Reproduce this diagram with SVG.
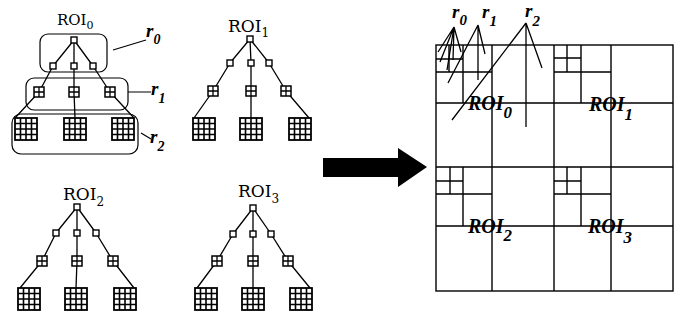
<svg xmlns="http://www.w3.org/2000/svg" width="687" height="320" viewBox="0 0 687 320">
<style>
.e{stroke:#000;stroke-width:1.3;fill:none}
.b{stroke:#000;stroke-width:1.2;fill:none}
.g{stroke:#000;stroke-width:1.4;fill:none}
.lbl{font-family:"DejaVu Serif","Liberation Serif",serif;fill:#000}
.rl{font-family:"Liberation Serif",serif;font-style:italic;font-weight:bold;fill:#000}
.ri{font-family:"Liberation Serif",serif;font-style:italic;font-weight:bold;fill:#000}
</style>
<defs>
<g id="n1"><rect x="-3" y="-3" width="6" height="6" fill="#fff" stroke="#000" stroke-width="1.4"/></g>
<g id="n2"><rect x="-5" y="-5" width="10" height="10" fill="#fff" stroke="#000" stroke-width="1.5"/><path d="M0,-5V5M-5,0H5" stroke="#000" stroke-width="1.3"/></g>
<g id="n3"><rect x="-11" y="-11" width="22" height="22" fill="#fff" stroke="#000" stroke-width="1.8"/><path d="M-5.5,-11V11M0,-11V11M5.5,-11V11M-11,-5.5H11M-11,0H11M-11,5.5H11" stroke="#000" stroke-width="1.6"/></g>
</defs>
<rect width="687" height="320" fill="#fff"/>

<g id="connectors">
<path class="e" d="M74,40L53,66M74,40L74,66M74,40L93,66M53,66L39,92M74,66L74,92M93,66L110,92M39,92L15,118M74,92L75,118M110,92L134,118"/>
<path class="e" d="M250,39L230,63M250,39L251,63M250,39L269,63M230,63L213,91M251,63L251,91M269,63L286,91M213,91L194,118M251,91L251,118M286,91L309,118"/>
<path class="e" d="M77,207L56,233M77,207L77,233M77,207L96,233M56,233L42,261M77,233L77,261M96,233L113,261M42,261L20,288M77,261L76,288M113,261L134,288"/>
<path class="e" d="M253,208L233,234M253,208L253,234M253,208L271,234M233,234L217,261M253,234L253,261M271,234L288,261M217,261L197,288M253,261L253,288M288,261L310,288"/>
</g>

<g id="tree0">
<text class="lbl" x="57" y="25" font-size="15">ROI<tspan font-size="11" dy="4">0</tspan></text>
<g id="t0-root"><use href="#n1" x="74" y="40"/></g>
<g id="t0-a"><use href="#n1" x="53" y="66"/></g>
<g id="t0-b"><use href="#n1" x="74" y="66"/></g>
<g id="t0-c"><use href="#n1" x="93" y="66"/></g>
<g id="t0-d"><use href="#n2" x="39" y="92"/></g>
<g id="t0-e"><use href="#n2" x="74" y="92"/></g>
<g id="t0-f"><use href="#n2" x="110" y="92"/></g>
<g id="t0-g"><use href="#n3" x="26" y="129"/></g>
<g id="t0-h"><use href="#n3" x="75" y="129"/></g>
<g id="t0-i"><use href="#n3" x="123" y="129"/></g>
</g>

<g id="regions0">
<rect class="b" x="40" y="34" width="67" height="38" rx="8"/>
<rect class="b" x="26" y="78" width="102" height="32" rx="8"/>
<rect class="b" x="12" y="114" width="126" height="40" rx="9"/>
<path class="b" d="M113,50L146,40M128,92L151,92M141,133L151,139"/>
<text class="rl" x="146" y="37" font-size="19">r<tspan font-size="14" dy="7">0</tspan></text>
<text class="rl" x="151" y="95" font-size="19">r<tspan font-size="14" dy="8">1</tspan></text>
<text class="rl" x="150" y="143" font-size="19">r<tspan font-size="14" dy="8">2</tspan></text>
</g>

<g id="tree1">
<text class="lbl" x="228" y="32" font-size="17">ROI<tspan font-size="12" dy="5">1</tspan></text>
<g id="t1-root"><use href="#n1" x="250" y="39"/></g>
<g id="t1-a"><use href="#n1" x="230" y="63"/></g>
<g id="t1-b"><use href="#n1" x="251" y="63"/></g>
<g id="t1-c"><use href="#n1" x="269" y="63"/></g>
<g id="t1-d"><use href="#n2" x="213" y="91"/></g>
<g id="t1-e"><use href="#n2" x="251" y="91"/></g>
<g id="t1-f"><use href="#n2" x="286" y="91"/></g>
<g id="t1-g"><use href="#n3" x="204" y="129"/></g>
<g id="t1-h"><use href="#n3" x="251" y="129"/></g>
<g id="t1-i"><use href="#n3" x="300" y="129"/></g>
</g>

<g id="tree2">
<text class="lbl" x="63" y="200" font-size="17">ROI<tspan font-size="12" dy="6">2</tspan></text>
<g id="t2-root"><use href="#n1" x="77" y="207"/></g>
<g id="t2-a"><use href="#n1" x="56" y="233"/></g>
<g id="t2-b"><use href="#n1" x="77" y="233"/></g>
<g id="t2-c"><use href="#n1" x="96" y="233"/></g>
<g id="t2-d"><use href="#n2" x="42" y="261"/></g>
<g id="t2-e"><use href="#n2" x="77" y="261"/></g>
<g id="t2-f"><use href="#n2" x="113" y="261"/></g>
<g id="t2-g"><use href="#n3" x="29" y="299"/></g>
<g id="t2-h"><use href="#n3" x="76" y="299"/></g>
<g id="t2-i"><use href="#n3" x="125" y="299"/></g>
</g>

<g id="tree3">
<text class="lbl" x="238" y="197" font-size="17">ROI<tspan font-size="12" dy="6">3</tspan></text>
<g id="t3-root"><use href="#n1" x="253" y="208"/></g>
<g id="t3-a"><use href="#n1" x="233" y="234"/></g>
<g id="t3-b"><use href="#n1" x="253" y="234"/></g>
<g id="t3-c"><use href="#n1" x="271" y="234"/></g>
<g id="t3-d"><use href="#n2" x="217" y="261"/></g>
<g id="t3-e"><use href="#n2" x="253" y="261"/></g>
<g id="t3-f"><use href="#n2" x="288" y="261"/></g>
<g id="t3-g"><use href="#n3" x="206" y="299"/></g>
<g id="t3-h"><use href="#n3" x="253" y="299"/></g>
<g id="t3-i"><use href="#n3" x="301" y="299"/></g>
</g>

<g id="arrow">
<polygon points="323,158 398,158 398,148 427,167 398,187 398,177 323,177" fill="#000"/>
</g>

<g id="grid">
<rect class="g" x="436" y="45" width="237" height="246"/>
<path class="g" d="M492,45V291M554,45V291M611,45V291M436,103H673M436,167H673M436,226H673"/>
<path class="g" d="M463,45V103M436,72H492M449,45V72M436,59H463"/>
<path class="g" d="M581,45V103M554,72H611M567,45V72M554,58H581"/>
<path class="g" d="M463,167V226M436,194H492M450,167V194M436,181H463"/>
<path class="g" d="M581,167V226M554,194H611M567,167V194M554,181H581"/>
</g>

<g id="leaders">
<path class="e" d="M454,27L438,52M454,27L440,62M454,27L447,70M454,27L453,60M454,27L461,52"/>
<path class="e" d="M478,25L448,83M478,25L478,80M478,25L485,54"/>
<path class="e" d="M526,23L452,120M526,23L526,127M526,23L542,68"/>
</g>

<g id="grid-labels">
<text class="ri" x="468" y="110" font-size="20">ROI<tspan font-size="17" dy="8">0</tspan></text>
<text class="ri" x="589" y="111" font-size="20">ROI<tspan font-size="17" dy="9">1</tspan></text>
<text class="ri" x="468" y="233" font-size="20">ROI<tspan font-size="17" dy="8">2</tspan></text>
<text class="ri" x="588" y="233" font-size="20">ROI<tspan font-size="17" dy="10">3</tspan></text>
<text class="rl" x="452" y="18" font-size="19">r<tspan font-size="15" dy="7">0</tspan></text>
<text class="rl" x="482" y="18" font-size="19">r<tspan font-size="15" dy="8">1</tspan></text>
<text class="rl" x="525" y="17" font-size="19">r<tspan font-size="15" dy="9">2</tspan></text>
</g>
</svg>
